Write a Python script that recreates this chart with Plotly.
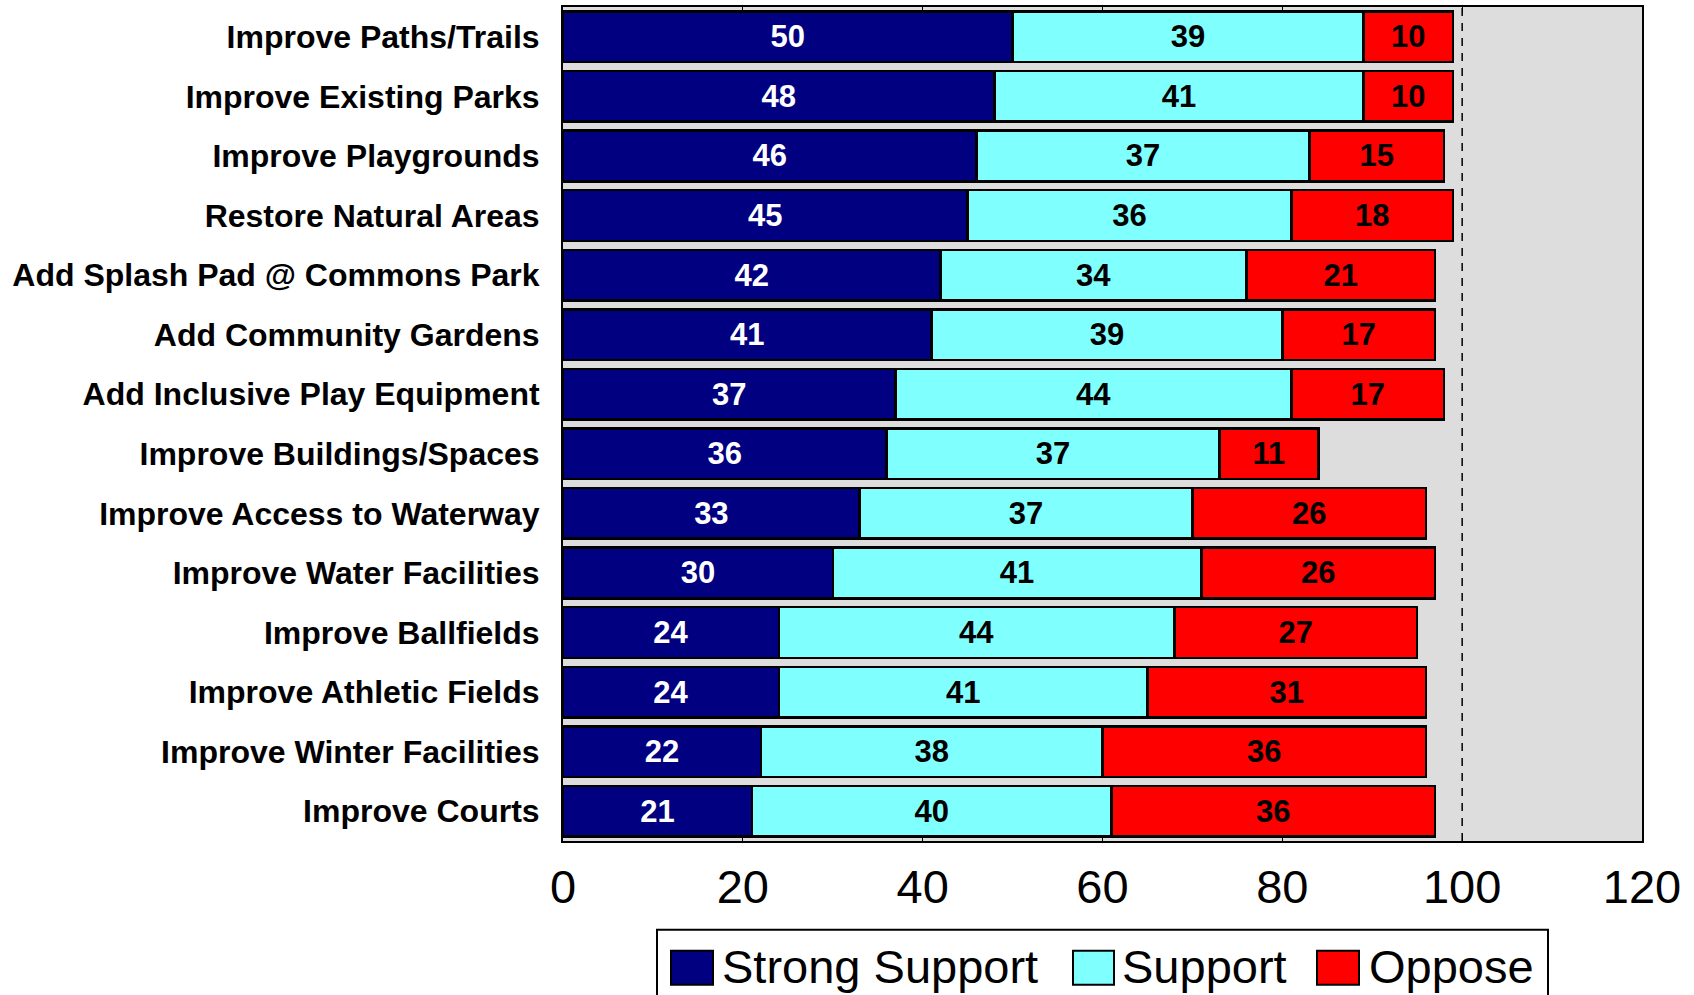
import plotly.graph_objects as go

categories = [
    "Improve Paths/Trails",
    "Improve Existing Parks",
    "Improve Playgrounds",
    "Restore Natural Areas",
    "Add Splash Pad @ Commons Park",
    "Add Community Gardens",
    "Add Inclusive Play Equipment",
    "Improve Buildings/Spaces",
    "Improve Access to Waterway",
    "Improve Water Facilities",
    "Improve Ballfields",
    "Improve Athletic Fields",
    "Improve Winter Facilities",
    "Improve Courts",
]
strong_support = [50, 48, 46, 45, 42, 41, 37, 36, 33, 30, 24, 24, 22, 21]
support = [39, 41, 37, 36, 34, 39, 44, 37, 37, 41, 44, 41, 38, 40]
oppose = [10, 10, 15, 18, 21, 17, 17, 11, 26, 26, 27, 31, 36, 36]

series = [
    ("Strong Support", strong_support, "#000080", "white"),
    ("Support", support, "#80FFFF", "black"),
    ("Oppose", oppose, "#FF0000", "black"),
]

FONT = "Liberation Sans, Arial, sans-serif"

fig = go.Figure()
for name, vals, color, txt in series:
    fig.add_trace(go.Bar(
        name=name, y=categories, x=vals, orientation="h",
        marker=dict(color=color, line=dict(color="black", width=2.5)),
        text=vals, textposition="inside", insidetextanchor="middle",
        textfont=dict(family=FONT, size=31, color=txt, weight="bold"),
        showlegend=False,
    ))

# reference line at 100
fig.add_shape(type="line", xref="x", yref="paper", x0=100, x1=100, y0=0, y1=1,
              line=dict(color="black", width=1.5, dash="8px,7px"))

# manual legend (large swatches, partly cut off at the bottom like the original)
W0, W1, H0, H1 = 563, 1642, 5, 841


def px_x(v):
    return (v - W0) / (W1 - W0)


def px_y(v):
    return (H1 - v) / (H1 - H0)


fig.add_shape(type="rect", xref="paper", yref="paper",
              x0=px_x(657), x1=px_x(1548), y0=px_y(1010), y1=px_y(930),
              line=dict(color="black", width=2), fillcolor="white")
swatches = [(671, 713, 720), (1073, 1114, 1120), (1317, 1359, 1367)]
for (name, _, color, _), (sx0, sx1, tx) in zip(series, swatches):
    fig.add_shape(type="rect", xref="paper", yref="paper",
                  x0=px_x(sx0), x1=px_x(sx1), y0=px_y(985), y1=px_y(951),
                  line=dict(color="black", width=2), fillcolor=color)
    fig.add_annotation(text=name, xref="paper", yref="paper", x=px_x(tx), y=px_y(967),
                       xanchor="left", yanchor="middle", showarrow=False,
                       font=dict(family=FONT, size=47, color="black"))

fig.update_layout(
    width=1694, height=995,
    barmode="stack", bargap=0.15,
    plot_bgcolor="#DDDDDD", paper_bgcolor="white",
    margin=dict(l=563, r=52, t=5, b=154),
)
fig.update_xaxes(
    range=[0, 120], dtick=20, showgrid=False, zeroline=False,
    showline=True, linecolor="black", linewidth=2, mirror="ticks",
    ticks="inside", ticklen=6, tickcolor="black", tickwidth=1,
    tickfont=dict(family=FONT, size=47, color="black"),
    ticklabelstandoff=4,
)
fig.update_yaxes(
    autorange="reversed", showgrid=False,
    showline=True, linecolor="black", linewidth=2, mirror=True,
    ticks="", ticklabelstandoff=15,
    tickfont=dict(family=FONT, size=32, color="black", weight="bold"),
)

fig.write_html("out.html", config={"displayModeBar": False},
               post_script="document.body.style.margin='0';")
